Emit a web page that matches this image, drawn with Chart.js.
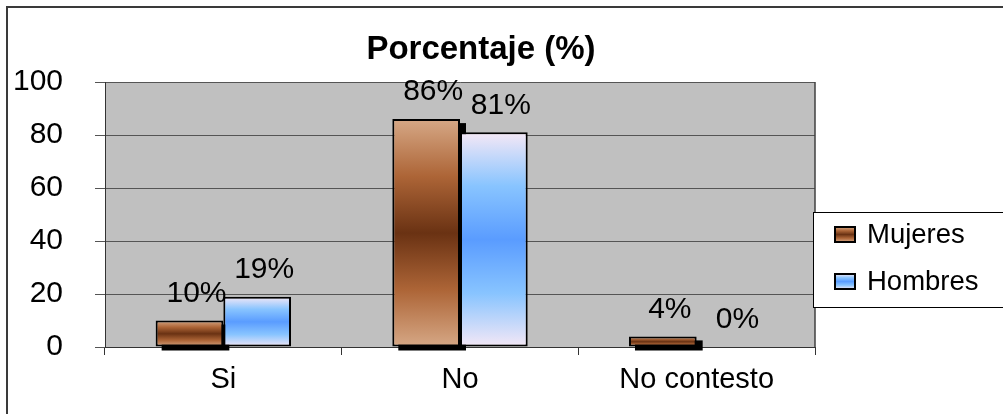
<!DOCTYPE html>
<html>
<head>
<meta charset="utf-8">
<script src="https://cdn.jsdelivr.net/npm/chart.js@4/dist/chart.umd.min.js"></script>
<style>
  html, body { margin: 0; padding: 0; background: #fff; }
  #wrap { width: 1003px; height: 414px; position: relative; }
</style>
</head>
<body>
<div id="wrap"><canvas id="myChart"></canvas></div>
<script>
// datos del grafico
const categorias = ['Si', 'No', 'No contesto'];
const series = ['Mujeres', 'Hombres'];
const mujeres = [10, 86, 4];
const hombres = [19, 81, 0];
const ejeY = [0, 20, 40, 60, 80, 100];
const titulo = 'Porcentaje (%)';

const fuente = '"Liberation Sans", Arial, sans-serif';

// degradados tipo Excel (claro - oscuro - claro)
const paradasMujeres = ['#d6a886', '#ad6537', '#6a3213', '#ad6537', '#d6a886'];
const paradasHombres = ['#f5e8f6', '#88c4ff', '#5a9cff', '#88c4ff', '#f5e8f6'];

function degradado(c, y1, y2, paradas) {
    let g = c.createLinearGradient(0, y1, 0, y2);
    paradas.forEach((col, i) => g.addColorStop(i / (paradas.length - 1), col));
    return g;
}

function rellenoBarra(paradas) {
    return function(context) {
        let chart = context.chart;
        let y = chart.scales.y;
        if (!y || !context.parsed) return paradas[2];
        let y0 = y.getPixelForValue(0);
        let y1 = y.getPixelForValue(context.parsed.y);
        if (!isFinite(y0) || !isFinite(y1) || Math.abs(y0 - y1) < 1) return paradas[2];
        return degradado(chart.ctx, y1, y0, paradas);
    };
}

const fondoPlugin = {
    id: 'fondo',
    beforeDraw(chart) {
        let c = chart.ctx, a = chart.chartArea;
        c.save();
        c.fillStyle = '#ffffff';
        c.fillRect(0, 0, chart.width, chart.height);
        c.fillStyle = '#c0c0c0';
        c.fillRect(a.left, a.top, a.right - a.left, a.bottom - a.top);
        // marco exterior
        c.strokeStyle = '#3a3a3a';
        c.lineWidth = 2;
        c.beginPath();
        c.moveTo(7, chart.height);
        c.lineTo(7, 7);
        c.lineTo(chart.width, 7);
        c.stroke();
        c.restore();
    },
    beforeDatasetsDraw(chart) {
        let c = chart.ctx, a = chart.chartArea;
        c.save();
        c.strokeStyle = '#404040';
        c.lineWidth = 1.5;
        c.beginPath();
        c.moveTo(a.right, a.top);
        c.lineTo(a.right, a.bottom);
        c.stroke();
        // sombra de las barras de Mujeres
        let meta = chart.getDatasetMeta(0);
        c.fillStyle = '#000';
        meta.data.forEach(bar => {
            let p = bar.getProps(['x', 'y', 'base', 'width'], true);
            let h = p.base - p.y;
            if (h <= 0) return;
            c.fillRect(p.x - p.width / 2 + 6, p.y + 4, p.width, h);
        });
        c.restore();
    },
    afterDatasetsDraw(chart) {
        let c = chart.ctx;
        c.save();
        c.fillStyle = '#000';
        c.font = '30px ' + fuente;
        c.textAlign = 'center';
        c.textBaseline = 'middle';
        chart.data.datasets.forEach((ds, i) => {
            chart.getDatasetMeta(i).data.forEach((bar, j) => {
                let p = bar.getProps(['x', 'y'], true);
                c.fillText(ds.data[j] + '%', p.x + 7, p.y - 27);
            });
        });

        // titulo
        c.font = 'bold 33px ' + fuente;
        c.fillText(titulo, 481, 50);

        // leyenda
        let lx = 813, ly = 212;
        c.fillStyle = '#fff';
        c.fillRect(lx, ly, chart.width - lx + 5, 95);
        c.strokeStyle = '#000';
        c.lineWidth = 1;
        c.strokeRect(lx + 0.5, ly + 0.5, chart.width - lx + 5, 95);
        let paradas = [paradasMujeres, paradasHombres];
        series.forEach((nombre, i) => {
            let my = ly + 15 + i * 47;
            c.fillStyle = degradado(c, my, my + 15, paradas[i]);
            c.fillRect(835, my, 20, 15);
            c.lineWidth = 2;
            c.strokeStyle = '#000';
            c.strokeRect(835, my, 20, 15);
            c.fillStyle = '#000';
            c.font = '27.5px ' + fuente;
            c.textAlign = 'left';
            c.fillText(nombre, 867, my + 8);
        });
        c.restore();
    }
};

let ctx = document.getElementById('myChart');
let myChart = new Chart(ctx, {
    type: 'bar',
    data: {
        labels: categorias,
        datasets: [{
            label: series[0],
            data: mujeres,
            backgroundColor: rellenoBarra(paradasMujeres),
            borderColor: '#000',
            borderWidth: 2,
            borderSkipped: false,
            categoryPercentage: 0.572,
            barPercentage: 1.0
        }, {
            label: series[1],
            data: hombres,
            backgroundColor: rellenoBarra(paradasHombres),
            borderColor: '#000',
            borderWidth: 2,
            borderSkipped: false,
            categoryPercentage: 0.572,
            barPercentage: 1.0
        }]
    },
    options: {
        responsive: true,
        maintainAspectRatio: false,
        animation: false,
        devicePixelRatio: 1,
        layout: { padding: { left: 8, right: 188, top: 82, bottom: 0 } },
        plugins: {
            legend: { display: false },
            title: { display: false },
            tooltip: { enabled: false }
        },
        scales: {
            x: {
                afterFit: s => { s.height = 67; },
                grid: {
                    offset: true,
                    drawOnChartArea: false,
                    color: '#333',
                    tickLength: 8
                },
                border: { color: '#333', width: 1 },
                ticks: {
                    color: '#000',
                    padding: 8,
                    font: { family: fuente, size: 29 }
                }
            },
            y: {
                min: ejeY[0],
                max: ejeY[ejeY.length - 1],
                afterFit: s => { s.width = 97; },
                afterBuildTicks: s => { s.ticks = ejeY.map(v => ({ value: v })); },
                grid: { color: '#555', tickLength: 10, lineWidth: 1 },
                border: { color: '#333', width: 1 },
                ticks: {
                    color: '#000',
                    padding: 32,
                    font: { family: fuente, size: 30 }
                }
            }
        }
    },
    plugins: [fondoPlugin]
});
</script>
</body>
</html>
